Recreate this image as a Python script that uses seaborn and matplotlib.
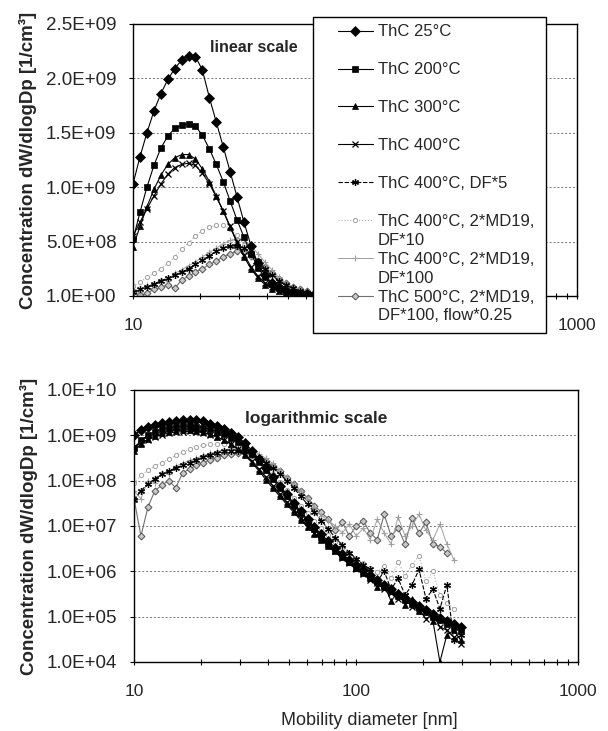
import numpy as np
import matplotlib
matplotlib.use("Agg")
import matplotlib.pyplot as plt
from matplotlib.lines import Line2D
from matplotlib.patches import Rectangle
from matplotlib.ticker import FuncFormatter, NullFormatter, NullLocator, FixedLocator
import seaborn as sns

# diametro di mobilita' (nm) e concentrazioni dW/dlogDp (1/cm3)
diameter_nm = [10.0, 10.75, 11.55, 12.42, 13.35, 14.35, 15.4, 16.6, 17.8, 19.1,
               20.5, 22.1, 23.7, 25.5, 27.4, 29.4, 31.6, 34.0, 36.5, 39.3,
               42.2, 45.4, 48.7, 52.4, 56.3, 60.5, 65.0, 69.9, 75.1, 80.7,
               86.8, 93.3, 100.3, 107.8, 115.9, 124.6, 133.9, 143.9, 154.7, 166.3,
               178.8, 192.2, 206.6, 222.1, 238.7, 256.6, 275.9, 296.5]

thc_25 = [1.03e9, 1.28e9, 1.50e9, 1.70e9, 1.86e9, 1.99e9, 2.09e9, 2.17e9, 2.21e9, 2.20e9,
          2.08e9, 1.82e9, 1.60e9, 1.37e9, 1.14e9, 0.91e9, 0.68e9, 0.46e9, 0.30e9, 0.19e9,
          0.12e9, 7.8e7, 5.0e7, 3.2e7, 2.1e7, 1.4e7, 9.5e6, 6.5e6, 4.6e6, 3.3e6,
          2.4e6, 1.8e6, 1.35e6, 1.05e6, 8.2e5, 6.4e5, 5.1e5, 4.0e5, 3.2e5, 2.6e5,
          2.1e5, 1.7e5, 1.4e5, 1.15e5, 9.5e4, 8.0e4, 6.8e4, 6.0e4]

thc_200 = [0.52e9, 0.77e9, 1.00e9, 1.20e9, 1.36e9, 1.47e9, 1.54e9, 1.57e9, 1.58e9, 1.56e9,
           1.48e9, 1.35e9, 1.21e9, 1.05e9, 0.87e9, 0.70e9, 0.54e9, 0.39e9, 0.26e9, 0.17e9,
           0.11e9, 7.0e7, 4.5e7, 2.9e7, 1.9e7, 1.25e7, 8.5e6, 5.8e6, 4.1e6, 3.0e6,
           2.2e6, 1.6e6, 1.2e6, 9.5e5, 7.4e5, 5.8e5, 4.6e5, 3.6e5, 2.9e5, 2.3e5,
           1.9e5, 1.55e5, 1.25e5, 1.0e5, 8.5e4, 7.0e4, 6.0e4, 5.0e4]

thc_300 = [0.45e9, 0.64e9, 0.82e9, 0.98e9, 1.11e9, 1.21e9, 1.27e9, 1.30e9, 1.30e9, 1.26e9,
           1.17e9, 1.05e9, 0.92e9, 0.78e9, 0.63e9, 0.49e9, 0.36e9, 0.25e9, 0.165e9, 0.105e9,
           6.8e7, 4.5e7, 3.0e7, 2.0e7, 1.35e7, 9.5e6, 6.8e6, 5.0e6, 3.7e6, 2.8e6,
           2.1e6, 1.6e6, 1.2e6, 9.0e5, 7.0e5, 4.5e5, 5.0e5, 2.2e5, 3.5e5, 1.8e5,
           2.4e5, 1.3e5, 1.5e5, 8.0e4, 1.0e4, 4.0e4, 5.0e4, 3.0e4]

thc_400 = [0.55e9, 0.68e9, 0.80e9, 0.92e9, 1.03e9, 1.12e9, 1.18e9, 1.21e9, 1.22e9, 1.20e9,
           1.13e9, 1.03e9, 0.91e9, 0.78e9, 0.64e9, 0.50e9, 0.38e9, 0.27e9, 0.18e9, 0.12e9,
           7.8e7, 5.0e7, 3.3e7, 2.2e7, 1.5e7, 1.0e7, 7.0e6, 5.1e6, 3.8e6, 2.8e6,
           2.0e6, 1.5e6, 1.15e6, 8.8e5, 6.6e5, 5.5e5, 4.1e5, 3.3e5, 2.5e5, 2.9e5,
           1.6e5, 1.4e5, 9.0e4, 1.1e5, 6.0e4, 5.0e4, 3.5e4, 2.5e4]

thc_400_df5 = [3.7e7, 6.0e7, 8.5e7, 1.1e8, 1.4e8, 1.65e8, 1.9e8, 2.2e8, 2.5e8, 2.9e8,
               3.3e8, 3.7e8, 4.1e8, 4.4e8, 4.6e8, 4.6e8, 4.4e8, 3.9e8, 3.2e8, 2.5e8,
               1.9e8, 1.4e8, 1.0e8, 7.0e7, 4.5e7, 3.0e7, 2.0e7, 1.3e7, 8.5e6, 5.5e6,
               3.8e6, 2.6e6, 1.9e6, 1.4e6, 1.1e6, 6.0e5, 1.0e6, 4.0e5, 7.0e5, 3.0e5,
               5.0e5, 1.1e6, 2.5e5, 4.0e5, 1.5e5, 5.0e5, 3.0e4, 4.0e4]

thc_400_df10 = [9.0e7, 1.3e8, 1.7e8, 2.1e8, 2.5e8, 3.0e8, 3.6e8, 4.3e8, 4.9e8, 5.5e8,
                6.0e8, 6.3e8, 6.5e8, 6.5e8, 6.2e8, 5.6e8, 4.7e8, 3.7e8, 2.8e8, 2.0e8,
                1.4e8, 9.5e7, 6.3e7, 4.2e7, 2.8e7, 1.9e7, 1.3e7, 9.0e6, 6.3e6, 4.5e6,
                3.3e6, 2.5e6, 1.9e6, 1.5e6, 1.2e6, 9.5e5, 1.3e6, 7.0e5, 1.6e6, 8.0e5,
                1.4e6, 2.2e6, 6.0e5, 1.0e6, 3.0e5, 2.0e5, 1.5e5]

thc_400_df100 = [6.0e7, 4.0e7, 1.0e8, 9.0e7, 1.5e8, 1.4e8, 2.1e8, 2.4e8, 2.8e8, 3.1e8,
                 3.6e8, 4.0e8, 4.4e8, 4.8e8, 5.1e8, 5.3e8, 5.1e8, 4.6e8, 3.9e8, 3.1e8,
                 2.4e8, 1.7e8, 1.2e8, 8.5e7, 6.0e7, 4.0e7, 2.6e7, 1.7e7, 1.3e7, 1.0e7,
                 7.0e6, 1.1e7, 6.0e6, 9.0e6, 5.0e6, 1.4e7, 7.0e6, 4.0e6, 1.6e7, 6.0e6,
                 1.0e7, 1.8e7, 8.0e6, 5.0e6, 1.1e7, 4.0e6, 1.8e6]

thc_500 = [4.0e7, 6.0e6, 2.6e7, 6.0e7, 8.0e7, 1.0e8, 7.0e7, 1.5e8, 1.8e8, 2.2e8,
           2.5e8, 2.9e8, 3.2e8, 3.6e8, 3.9e8, 4.1e8, 4.0e8, 3.7e8, 3.2e8, 2.7e8,
           2.1e8, 1.6e8, 1.15e8, 8.5e7, 6.0e7, 4.2e7, 2.8e7, 2.0e7, 1.4e7, 8.0e6,
           1.2e7, 6.0e6, 1.0e7, 1.3e7, 7.0e6, 5.0e6, 1.8e7, 6.0e6, 9.0e6, 4.0e6,
           1.5e7, 7.0e6, 1.2e7, 4.0e6, 3.5e6, 2.5e6]

series = [thc_25, thc_200, thc_300, thc_400, thc_400_df5,
          thc_400_df10, thc_400_df100, thc_500]

legend_lines = [["ThC 25°C"], ["ThC 200°C"], ["ThC 300°C"], ["ThC 400°C"],
                ["ThC 400°C, DF*5"],
                ["ThC 400°C, 2*MD19,", "DF*10"],
                ["ThC 400°C, 2*MD19,", "DF*100"],
                ["ThC 500°C, 2*MD19,", "DF*100, flow*0.25"]]

y_lin_ticks = [1, 5e8, 1e9, 1.5e9, 2e9, 2.5e9]
y_log_ticks = [1e4, 1e5, 1e6, 1e7, 1e8, 1e9, 1e10]
x_ticks = [10, 100, 1000]

# stili (colore, linea, marker) per ogni serie
styles = [
    dict(color="black", lw=0.8, ls="-", marker="D", ms=5.5, mfc="black", mec="black", mew=0.5),
    dict(color="black", lw=0.8, ls="-", marker="s", ms=4, mfc="black", mec="black", mew=0.5),
    dict(color="black", lw=0.8, ls="-", marker="^", ms=4.5, mfc="black", mec="black", mew=0.5),
    dict(color="black", lw=0.8, ls="-", marker="x", ms=4, mfc="black", mec="black", mew=0.9),
    dict(color="black", lw=0.8, ls=(0, (4, 1.5)), marker=(6, 2, 0), ms=5, mfc="black", mec="black", mew=0.9),
    dict(color="#b0b0b0", lw=0.8, ls=":", marker="o", ms=3, mfc="white", mec="#a0a0a0", mew=0.7),
    dict(color="#a0a0a0", lw=0.7, ls="-", marker="+", ms=4.5, mfc="#a0a0a0", mec="#a0a0a0", mew=0.8),
    dict(color="#707070", lw=0.8, ls="-", marker="D", ms=3.5, mfc="#c8c8c8", mec="#505050", mew=0.7),
]

sns.set_theme(style="white")
plt.rcParams['font.family'] = ['Liberation Sans', 'DejaVu Sans']

fig = plt.figure(figsize=(6.08, 7.31), dpi=100)
ax_lin = fig.add_axes([0.2188, 0.5951, 0.7303, 0.3721])
ax_log = fig.add_axes([0.2204, 0.0944, 0.7303, 0.3721])

for ax in (ax_lin, ax_log):
    ax.set_xscale("log")
    # grigi prima, neri sopra
    for vals, st in reversed(list(zip(series, styles))):
        sns.lineplot(x=diameter_nm[:len(vals)], y=vals, ax=ax, legend=False,
                     sort=False, estimator=None, color=st["color"], linewidth=st["lw"],
                     linestyle=st["ls"], marker=st["marker"], markersize=st["ms"],
                     markerfacecolor=st["mfc"], markeredgecolor=st["mec"],
                     markeredgewidth=st["mew"])
    ax.set_xlim(10, 1000)
    ax.xaxis.set_major_locator(FixedLocator(x_ticks))
    ax.xaxis.set_major_formatter(FuncFormatter(lambda v, p: f"{v:g}"))
    ax.xaxis.set_minor_formatter(NullFormatter())
    ax.yaxis.set_major_formatter(FuncFormatter(lambda v, p: f"{v:.1E}"))
    ax.tick_params(axis="x", which="both", bottom=True, direction="inout",
                   width=0.8, color="black", labelsize=12.5, pad=13)
    ax.tick_params(axis="x", which="major", length=5)
    ax.tick_params(axis="x", which="minor", length=4)
    ax.tick_params(axis="y", which="major", left=True, direction="out", length=3,
                   width=0.8, color="black", labelsize=13.5, pad=9)
    ax.yaxis.grid(True, which="major", ls=(0, (2, 2)), color="#777777", lw=0.7)
    ax.xaxis.grid(False)
    for sp in ax.spines.values():
        sp.set_color("black")
        sp.set_linewidth(1)
    ax.set_ylabel("Concentration dW/dlogDp [1/cm³]", fontsize=13.5, fontweight="bold")
    ax.yaxis.set_label_coords(-0.216, 0.5)
    ax.set_xlabel("")

ax_lin.set_ylim(1, 2.5e9)
ax_lin.set_yticks(y_lin_ticks)
ax_lin.text(0.173, 0.915, "linear scale", transform=ax_lin.transAxes,
            fontsize=11.5, fontweight="bold", ha="left", va="center")

ax_log.set_yscale("log")
ax_log.set_ylim(1e4, 1e10)
ax_log.set_yticks(y_log_ticks)
ax_log.yaxis.set_minor_locator(NullLocator())
ax_log.yaxis.set_major_formatter(FuncFormatter(lambda v, p: f"{v:.1E}"))
ax_log.text(0.25, 0.897, "logarithmic scale", transform=ax_log.transAxes,
            fontsize=12.5, fontweight="bold", ha="left", va="center")
ax_log.set_xlabel("Mobility diameter [nm]", fontsize=13)
ax_log.xaxis.set_label_coords(0.53, -0.184)

# riquadro legenda (in stile Excel)
fig.add_artist(Rectangle((0.5148, 0.5445), 0.3832, 0.4323, transform=fig.transFigure,
                         facecolor="white", edgecolor="black", lw=1, zorder=3))

handles, labels = [], []
blank = Line2D([], [], linestyle="none")
for lines, st in zip(legend_lines, styles):
    handles.append(Line2D([], [], color=st["color"], lw=st["lw"], ls=st["ls"],
                          marker=st["marker"], ms=st["ms"], mfc=st["mfc"],
                          mec=st["mec"], mew=st["mew"]))
    labels.append(lines[0])
    handles.append(blank)
    labels.append(lines[1] if len(lines) > 1 else " ")

fig.legend(handles, labels, loc="upper left", bbox_to_anchor=(0.5559, 0.9665),
           frameon=False, borderpad=0, borderaxespad=0, handlelength=2.1,
           handletextpad=0.3, labelspacing=0.236, fontsize=12)

fig.savefig("out.png", dpi=100)
